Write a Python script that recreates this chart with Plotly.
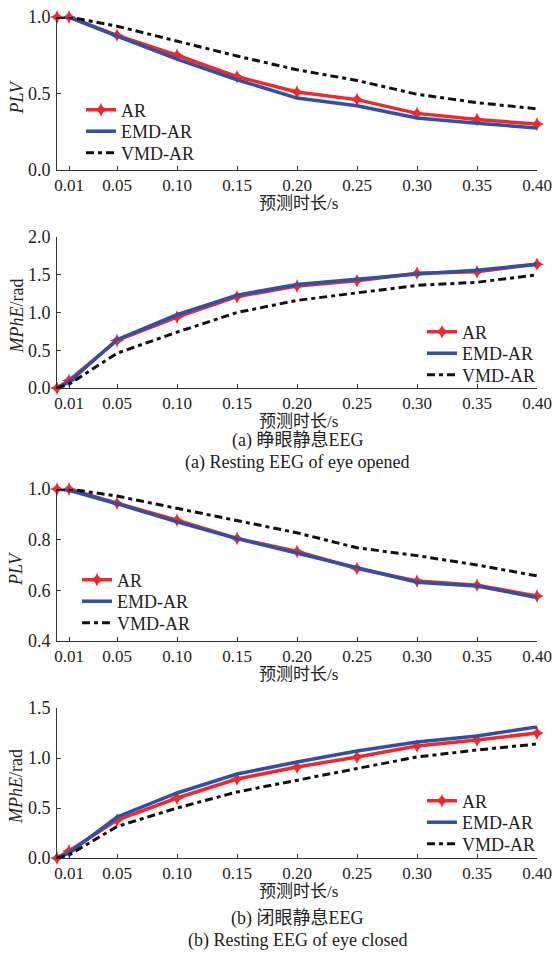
import plotly.graph_objects as go

x_vals = [0.0, 0.01, 0.05, 0.10, 0.15, 0.20, 0.25, 0.30, 0.35, 0.40]
tick_vals = [0.01, 0.05, 0.10, 0.15, 0.20, 0.25, 0.30, 0.35, 0.40]
tick_text = ["0.01", "0.05", "0.10", "0.15", "0.20", "0.25", "0.30", "0.35", "0.40"]
series_names = ["AR", "EMD-AR", "VMD-AR"]

# (a) eyes open - PLV
plv_open_ar = [1.0, 1.0, 0.88, 0.75, 0.61, 0.51, 0.46, 0.37, 0.33, 0.30]
plv_open_emd = [1.0, 1.0, 0.875, 0.725, 0.59, 0.47, 0.42, 0.34, 0.305, 0.275]
plv_open_vmd = [1.0, 1.0, 0.94, 0.84, 0.745, 0.655, 0.585, 0.495, 0.44, 0.40]
# (a) eyes open - MPhE
mphe_open_ar = [0.0, 0.10, 0.63, 0.94, 1.21, 1.35, 1.42, 1.52, 1.54, 1.64]
mphe_open_emd = [0.0, 0.08, 0.64, 0.97, 1.23, 1.37, 1.44, 1.51, 1.56, 1.64]
mphe_open_vmd = [0.0, 0.05, 0.46, 0.74, 1.00, 1.16, 1.26, 1.36, 1.40, 1.50]
# (b) eyes closed - PLV
plv_closed_ar = [1.0, 1.0, 0.944, 0.877, 0.805, 0.753, 0.686, 0.637, 0.62, 0.578]
plv_closed_emd = [1.0, 0.995, 0.942, 0.87, 0.804, 0.747, 0.688, 0.632, 0.617, 0.572]
plv_closed_vmd = [1.0, 1.0, 0.972, 0.924, 0.877, 0.827, 0.768, 0.737, 0.70, 0.657]
# (b) eyes closed - MPhE
mphe_closed_ar = [0.0, 0.07, 0.38, 0.60, 0.79, 0.91, 1.01, 1.12, 1.18, 1.25]
mphe_closed_emd = [0.0, 0.05, 0.41, 0.65, 0.84, 0.96, 1.07, 1.16, 1.22, 1.31]
mphe_closed_vmd = [0.0, 0.03, 0.315, 0.50, 0.66, 0.78, 0.895, 1.01, 1.08, 1.14]

W, H = 553, 954
SERIF = "Liberation Serif, 'Times New Roman', 'Noto Sans CJK SC', serif"
CJK = "Liberation Serif, 'Noto Sans CJK SC', serif"
TXT = "#222222"

RED = "#F0282D"
BLUE = "#3050A8"
BLACK = "#111111"

def px(v):
    return v / W

def py(v):
    return 1 - v / H

x_left, x_right = 57, 537
panels = [
    # top px, bottom px, y range, dtick, y title, data, legend line-left px, first legend row y px
    (17, 170, [0, 1.0], 0.5, "<i>PLV</i>", (plv_open_ar, plv_open_emd, plv_open_vmd), 86, 110),
    (237, 388, [0, 2.0], 0.5, "<i>MPhE</i>/rad", (mphe_open_ar, mphe_open_emd, mphe_open_vmd), 427, 332),
    (489, 641, [0.4, 1.0], 0.2, "<i>PLV</i>", (plv_closed_ar, plv_closed_emd, plv_closed_vmd), 82, 580),
    (708, 858, [0, 1.5], 0.5, "<i>MPhE</i>/rad", (mphe_closed_ar, mphe_closed_emd, mphe_closed_vmd), 427, 801),
]
row_gap = 21.5

fig = go.Figure()
layout = dict(
    width=W, height=H,
    margin=dict(l=0, r=0, t=0, b=0, autoexpand=False),
    paper_bgcolor="white", plot_bgcolor="white",
    showlegend=True,
    font=dict(family=SERIF, size=18, color=TXT),
)
annotations = []
legend_count = 0

for i, (top, bot, yr, dt, ytitle, data, lx, ly) in enumerate(panels):
    n = i + 1
    xa = "xaxis" if n == 1 else f"xaxis{n}"
    ya = "yaxis" if n == 1 else f"yaxis{n}"
    xr = "x" if n == 1 else f"x{n}"
    yref = "y" if n == 1 else f"y{n}"
    layout[xa] = dict(
        domain=[px(x_left), px(x_right)], anchor=yref, range=[0, 0.40],
        tickmode="array", tickvals=tick_vals, ticktext=tick_text,
        showline=True, linecolor="#333", linewidth=1, ticks="inside", ticklen=4,
        tickcolor="#333", showgrid=False, zeroline=False, automargin=False,
        tickfont=dict(family=SERIF, size=17, color=TXT),
        ticklabelstandoff=0,
    )
    layout[ya] = dict(
        domain=[py(bot), py(top)], anchor=xr, range=yr, dtick=dt, tick0=yr[0],
        tickformat=".1f",
        showline=True, linecolor="#333", linewidth=1, ticks="inside", ticklen=4,
        tickcolor="#333", showgrid=False, zeroline=False, automargin=False,
        tickfont=dict(family=SERIF, size=18, color=TXT),
        ticklabelstandoff=2,
    )
    ar, emd, vmd = data
    styles = [
        dict(mode="lines+markers", line=dict(color=RED, width=3.5),
             marker=dict(symbol="star-diamond", size=10, color=RED)),
        dict(mode="lines", line=dict(color=BLUE, width=3.5)),
        dict(mode="lines", line=dict(color=BLACK, width=3, dash="8px,4px,4px,4px")),
    ]
    for k, (yv, st) in enumerate(zip((ar, emd, vmd), styles)):
        legend_count += 1
        lg = "legend" if legend_count == 1 else f"legend{legend_count}"
        layout[lg] = dict(
            x=px(lx - 5), y=py(ly + k * row_gap), xanchor="left", yanchor="middle",
            bgcolor="rgba(0,0,0,0)", borderwidth=0,
            font=dict(family=SERIF, size=18, color=TXT),
            itemwidth=30,
        )
        fig.add_trace(go.Scatter(
            x=x_vals, y=yv, name=series_names[k],
            xaxis=xr, yaxis=yref, legend=lg, cliponaxis=False, **st,
        ))
    # y axis title
    annotations.append(dict(
        text=ytitle, x=px(16), y=py((top + bot) / 2 + 4), xref="paper", yref="paper",
        textangle=-90, showarrow=False, xanchor="center", yanchor="middle",
        font=dict(family=SERIF, size=18, color=TXT),
    ))
    # x axis title
    annotations.append(dict(
        text="预测时长/s", x=px(298), y=py(bot + 33), xref="paper", yref="paper",
        showarrow=False, xanchor="center", yanchor="middle",
        font=dict(family=CJK, size=17, color=TXT),
    ))

captions = [
    ("(a) 睁眼静息EEG", 440),
    ("(a) Resting EEG of eye opened", 462),
    ("(b) 闭眼静息EEG", 918),
    ("(b) Resting EEG of eye closed", 940),
]
for text, yc in captions:
    annotations.append(dict(
        text=text, x=px(297), y=py(yc), xref="paper", yref="paper",
        showarrow=False, xanchor="center", yanchor="middle",
        font=dict(family=CJK, size=18, color=TXT),
    ))

layout["annotations"] = annotations
fig.update_layout(**layout)
fig.write_html(
    "out.html",
    config={"displayModeBar": False},
    post_script="document.body.style.margin='0';document.body.style.padding='0';document.body.style.overflow='hidden';",
)
